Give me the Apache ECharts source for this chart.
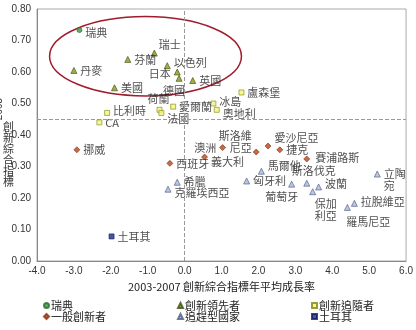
<!DOCTYPE html>
<html>
<head>
<meta charset="utf-8">
<script src="https://cdn.jsdelivr.net/npm/echarts@6/dist/echarts.min.js"></script>
<style>
  html, body { margin: 0; padding: 0; background: #fff; }
  #chart { width: 416px; height: 330px; }
</style>
</head>
<body>
<div id="chart"></div>
<script>
// [x growth, y index, name]
const sweden = [[-2.85, 0.733, '瑞典']];
const leaders = [
  [-3.0, 0.605, '丹麥'], [-1.54, 0.64, '芬蘭'], [-0.82, 0.66, '瑞士'],
  [-0.47, 0.62, '以色列'], [-0.2, 0.60, '日本'], [-0.15, 0.58, '德國'],
  [-1.9, 0.55, '美國'], [0.22, 0.573, '英國']
];
const followers = [
  [-0.68, 0.48, '荷蘭'], [-0.63, 0.47, '法國'], [-0.31, 0.49, '愛爾蘭'],
  [-2.1, 0.47, '比利時'], [-2.31, 0.44, 'CA'], [1.54, 0.535, '盧森堡'],
  [0.78, 0.50, '冰島'], [0.87, 0.48, '奧地利']
];
const moderate = [
  [-2.92, 0.353, '挪威'], [-0.4, 0.31, '西班牙'], [1.03, 0.36, '澳洲'],
  [0.54, 0.33, '義大利'], [1.94, 0.346, '斯洛維\n尼亞'], [2.26, 0.365, '愛沙尼亞'],
  [2.58, 0.353, '捷克'], [3.31, 0.324, '賽浦路斯']
];
const catching = [
  [-0.2, 0.25, '希臘'], [-0.45, 0.228, '克羅埃西亞'], [2.08, 0.285, '馬爾他'],
  [1.68, 0.254, '匈牙利'], [2.9, 0.244, '葡萄牙'], [3.31, 0.247, '斯洛伐克'],
  [3.63, 0.235, '波蘭'], [3.47, 0.22, '保加\n利亞'], [5.22, 0.276, '立陶\n宛'],
  [4.6, 0.183, '拉脫維亞'], [4.41, 0.17, '羅馬尼亞']
];
const turkey = [[-1.98, 0.078, '土耳其']];

// label placement tweaks: [position, offsetX, offsetY]
const labelTweaks = {
  '瑞典': ['right', 0, 3], '瑞士': ['right', -2, -8], '以色列': ['right', 0, -3],
  '日本': ['left', 0, 2], '德國': ['bottom', -5, 0], '荷蘭': ['top', -1, 1],
  '法國': ['right', 0, 6], '比利時': ['right', 0, -2], '冰島': ['right', 0, -2],
  '奧地利': ['right', 0, 4], '澳洲': ['left', 0, 0], '義大利': ['right', 0, 5],
  '斯洛維\n尼亞': ['left', 2, -10], '愛沙尼亞': ['right', 0, -8],
  '賽浦路斯': ['right', 2, -1], '馬爾他': ['right', 0, -5],
  '斯洛伐克': ['top', 7, 0], '葡萄牙': ['bottom', -10, 0],
  '保加\n利亞': ['bottom', 13, 0], '立陶\n宛': ['right', 0, 6],
  '拉脫維亞': ['right', 0, -2], '羅馬尼亞': ['bottom', 21, 2],
  '克羅埃西亞': ['right', 0, 4], '波蘭': ['right', 0, -3]
};

const cjk = '"Noto Sans CJK TC", "Noto Sans CJK SC", sans-serif';
const latin = '"Liberation Sans", Arial, sans-serif';

function items(arr) {
  return arr.map(d => {
    const t = labelTweaks[d[2]] || ['right', 0, 0];
    return {
      value: [d[0], d[1]],
      name: d[2],
      label: { position: t[0], offset: [t[1], t[2]] }
    };
  });
}

function scatter(name, arr, symbol, size, color, border) {
  return {
    name: name,
    type: 'scatter',
    symbol: symbol,
    symbolSize: size,
    itemStyle: { color: color, borderColor: border, borderWidth: 0.8 },
    label: {
      show: true,
      formatter: p => p.name,
      fontFamily: cjk,
      fontSize: 11,
      color: '#222',
      distance: 3,
      lineHeight: 12
    },
    data: items(arr)
  };
}

const chart = echarts.init(document.getElementById('chart'));
const option = {
  animation: false,
  textStyle: { fontFamily: cjk },
  grid: {
    left: 37, right: 7, top: 9, bottom: 69,
    show: true, borderColor: '#aaa', borderWidth: 1
  },
  xAxis: {
    type: 'value', min: -4, max: 6, interval: 1,
    name: '2003-2007 創新綜合指標年平均成長率',
    nameLocation: 'middle', nameGap: 14,
    nameTextStyle: { fontFamily: cjk, fontSize: 11, color: '#222' },
    axisLine: { onZero: false, lineStyle: { color: '#888' } },
    axisTick: { show: false },
    splitLine: { show: false },
    axisLabel: { formatter: v => v.toFixed(1), fontFamily: latin, fontSize: 10, color: '#333', margin: 5 }
  },
  yAxis: {
    type: 'value', min: 0, max: 0.8, interval: 0.1,
    axisLine: { show: true, onZero: false, lineStyle: { color: '#888' } },
    axisTick: { show: false },
    splitLine: { show: false },
    axisLabel: { formatter: v => v.toFixed(2), fontFamily: latin, fontSize: 10, color: '#333', margin: 6 }
  },
  legend: [
    { orient: 'vertical', left: 38, top: 295, data: ['瑞典', '一般創新者'] },
    { orient: 'vertical', left: 172, top: 295, data: ['創新領先者', '追趕型國家'] },
    { orient: 'vertical', left: 306, top: 295, data: ['創新追隨者', '土耳其'] }
  ].map(l => Object.assign(l, {
    itemWidth: 5, itemHeight: 5, itemGap: 0,
    textStyle: { fontFamily: cjk, fontSize: 11, color: '#222', padding: [0, 0, 0, -3] }
  })),
  series: [
    Object.assign(scatter('瑞典', sweden, 'circle', 5, '#3a9a3a', '#2a6a2a'), {
      markLine: {
        silent: true, symbol: 'none', label: { show: false },
        lineStyle: { color: '#999', type: 'dashed', width: 1 },
        data: [{ xAxis: 0 }, { yAxis: 0.45 }]
      }
    }),
    scatter('一般創新者', moderate, 'diamond', 6, '#b4461c', '#8a3010'),
    scatter('創新領先者', leaders, 'triangle', 6, '#8a9a1c', '#3d4a10'),
    scatter('追趕型國家', catching, 'triangle', 6, '#aab8d8', '#4a5a80'),
    scatter('創新追隨者', followers, 'rect', 5, '#f4f47a', '#7a8a10'),
    scatter('土耳其', turkey, 'rect', 5, '#1a2a8a', '#101a5a')
  ]
};
chart.setOption(option);

// red ellipse around the leading group, placed in data coordinates
const ellCenter = chart.convertToPixel({ gridIndex: 0 }, [-1.06, 0.65]);
const ellEdge = chart.convertToPixel({ gridIndex: 0 }, [-1.06 + 2.6, 0.65 + 0.126]);

chart.setOption({
  graphic: [
    {
      type: 'ellipse',
      shape: {
        cx: ellCenter[0], cy: ellCenter[1],
        rx: ellEdge[0] - ellCenter[0], ry: ellCenter[1] - ellEdge[1]
      },
      style: { fill: 'none', stroke: '#a01c2c', lineWidth: 1.5 },
      silent: true
    },
    {
      type: 'text', x: 2, y: 98, rotation: -Math.PI / 2,
      style: { text: '2007', font: '10px ' + latin, fill: '#333' }
    },
    {
      type: 'text', x: 3, y: 121,
      style: { text: '創\n新\n綜\n合\n指\n標', font: '11px ' + cjk, fill: '#333', lineHeight: 11 }
    }
  ]
});
</script>
</body>
</html>
